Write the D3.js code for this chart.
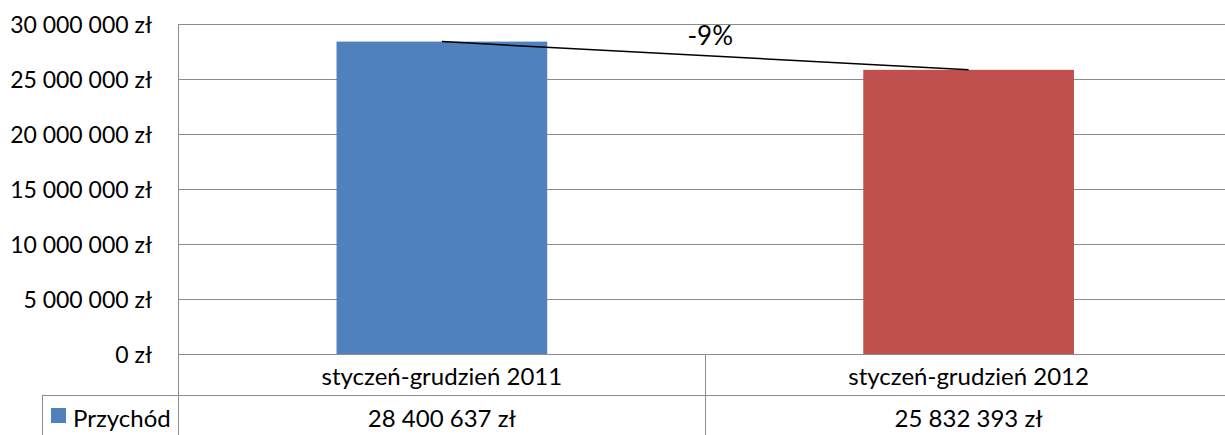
<!DOCTYPE html>
<html>
<head>
<meta charset="utf-8">
<script src="https://cdn.jsdelivr.net/npm/d3@7"></script>
<style>
  html, body { margin: 0; padding: 0; background: #fff; }
  svg { display: block; font-family: Lato, "Open Sans", sans-serif; }
</style>
</head>
<body>
<div id="chart"></div>
<script>
// dane wykresu
const categories = ["styczeń-grudzień 2011", "styczeń-grudzień 2012"];
const values = [28400637, 25832393];
const barColors = ["#4F81BD", "#C0504D"];
const seriesName = "Przychód";
const yTicks = [0, 5000000, 10000000, 15000000, 20000000, 25000000, 30000000];

const W = 1225, H = 435;
const plotL = 178.5, plotR = 1232, plotT = 24, plotB = 354;
const rowH = 41;
const fontSize = 24;
const gridColor = "#8c8c8c";

// format "28 400 637 zł"
const fmt = v => d3.format(",.0f")(v).replace(/,/g, " ") + " zł";

const svg = d3.select("#chart").append("svg")
  .attr("width", W).attr("height", H);

const x = d3.scaleBand().domain(categories).range([plotL, plotR]);
const y = d3.scaleLinear().domain([0, 30000000]).range([plotB, plotT]);

// linie siatki
svg.append("g")
  .selectAll("line")
  .data(yTicks)
  .join("line")
    .attr("x1", plotL).attr("x2", W)
    .attr("y1", d => Math.round(y(d)) + 0.5).attr("y2", d => Math.round(y(d)) + 0.5)
    .attr("stroke", gridColor).attr("stroke-width", 1);

// etykiety osi Y
svg.append("g")
  .selectAll("text")
  .data(yTicks)
  .join("text")
    .attr("x", 152).attr("y", d => y(d))
    .attr("text-anchor", "end")
    .attr("dominant-baseline", "central")
    .attr("font-size", 23)
    .attr("fill", "#000")
    .text(fmt);

// słupki
const barW = x.bandwidth() * 0.4;
svg.append("g")
  .selectAll("rect")
  .data(values)
  .join("rect")
    .attr("x", (d, i) => x(categories[i]) + (x.bandwidth() - barW) / 2)
    .attr("y", d => y(d))
    .attr("width", barW)
    .attr("height", d => plotB - y(d))
    .attr("fill", (d, i) => barColors[i]);

// linia zmiany
const cx = i => x(categories[i]) + x.bandwidth() / 2;
svg.append("line")
  .attr("x1", cx(0)).attr("y1", y(values[0]))
  .attr("x2", cx(1)).attr("y2", y(values[1]))
  .attr("stroke", "#000").attr("stroke-width", 1.5);

const change = values[1] / values[0] - 1;
svg.append("text")
  .attr("x", (cx(0) + cx(1)) / 2 + 5)
  .attr("y", (y(values[0]) + y(values[1])) / 2 - 21)
  .attr("text-anchor", "middle")
  .attr("dominant-baseline", "central")
  .attr("font-size", 26)
  .text(d3.format(".0%")(change).replace("−", "-"));

// tabela danych
const tbl = svg.append("g").attr("stroke", gridColor).attr("stroke-width", 1);
tbl.append("line").attr("x1", 42).attr("x2", W)
  .attr("y1", plotB + rowH + 0.5).attr("y2", plotB + rowH + 0.5);
tbl.append("line").attr("x1", 42.5).attr("x2", 42.5)
  .attr("y1", plotB + rowH).attr("y2", H);
tbl.append("line").attr("x1", plotL).attr("x2", plotL)
  .attr("y1", plotT).attr("y2", H);
tbl.selectAll(".sep")
  .data(categories.slice(1))
  .join("line")
    .attr("x1", d => Math.round(x(d)) + 0.5).attr("x2", d => Math.round(x(d)) + 0.5)
    .attr("y1", plotB).attr("y2", H);

// kategorie
svg.append("g")
  .selectAll("text")
  .data(categories)
  .join("text")
    .attr("x", d => x(d) + x.bandwidth() / 2)
    .attr("y", plotB + rowH / 2 + 1)
    .attr("text-anchor", "middle")
    .attr("dominant-baseline", "central")
    .attr("font-size", fontSize)
    .text(d => d);

// wartości
svg.append("g")
  .selectAll("text")
  .data(values)
  .join("text")
    .attr("x", (d, i) => x(categories[i]) + x.bandwidth() / 2)
    .attr("y", plotB + rowH + 22)
    .attr("text-anchor", "middle")
    .attr("dominant-baseline", "central")
    .attr("font-size", fontSize)
    .text(fmt);

// legenda
svg.append("rect")
  .attr("x", 51).attr("y", 408).attr("width", 15).attr("height", 15)
  .attr("fill", barColors[0]);
svg.append("text")
  .attr("x", 73).attr("y", plotB + rowH + 22)
  .attr("dominant-baseline", "central")
  .attr("font-size", fontSize)
  .text(seriesName);
</script>
</body>
</html>
